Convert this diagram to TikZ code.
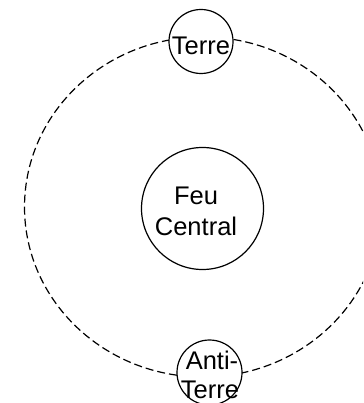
\documentclass[tikz,border=0pt]{standalone}
\usepackage{fontspec}
\setmainfont{Liberation Sans}
\begin{document}
\begin{tikzpicture}[x=1pt,y=-1pt,
  body/.style={circle,draw=black,line width=1.2pt,fill=white,inner sep=0pt},
  lbl/.style={font=\fontsize{25.5}{30}\selectfont,inner sep=0pt,anchor=base},
  orbit/.style={draw=black,line width=1.2pt,dash pattern=on 8pt off 4pt}]
\useasboundingbox (0,0) rectangle (363,403);
\clip (0,0) rectangle (363,403);
\fill[white] (0,0) rectangle (363,403);
\draw[orbit] (203,207) ellipse [x radius=178.5, y radius=170];
\node[body,minimum size=122pt] (feu) at (202.5,208.5) {};
\node[body,minimum size=64pt] (terre) at (201,41.5) {};
\node[body,minimum size=65pt] (anti) at (209.5,372.5) {};
\node[lbl] (terretxt) at (201,55) {Terre};
\node[lbl] (feu1) at (196,204) {Feu};
\node[lbl] (feu2) at (196,235) {Central};
\node[lbl] (anti1) at (212,369) {Anti-};
\node[lbl] (anti2) at (210,398) {Terre};
\end{tikzpicture}
\end{document}
